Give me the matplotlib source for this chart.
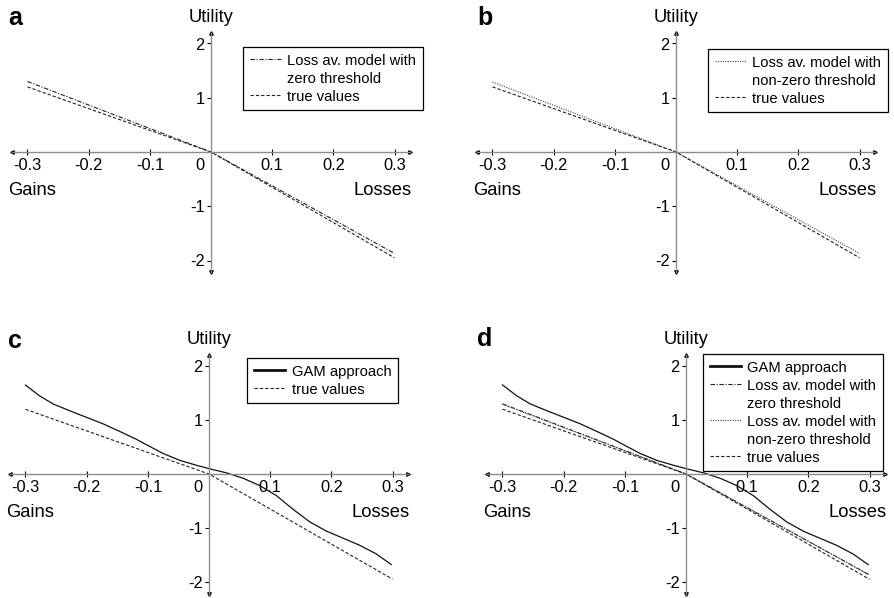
import matplotlib
matplotlib.use("Agg")
import matplotlib.pyplot as plt
from matplotlib.lines import Line2D

plt.rcParams['font.family'] = ['Liberation Sans', 'DejaVu Sans']
plt.rcParams['font.size'] = 11

# ---- data ------------------------------------------------------------------
x_lin = [-0.3, 0.0, 0.3]
true_vals = [1.20, 0.0, -1.95]
loss_av_zero = [1.30, 0.0, -1.87]
loss_av_nonzero = [1.29, 0.0, -1.87]

gam_x = [-0.300, -0.277, -0.255, -0.227, -0.200, -0.173, -0.146, -0.118,
         -0.100, -0.075, -0.047, -0.020, 0.000, 0.029, 0.056, 0.083,
         0.110, 0.138, 0.165, 0.192, 0.219, 0.246, 0.273, 0.298]
gam_y = [1.65, 1.45, 1.30, 1.17, 1.05, 0.93, 0.79, 0.64,
         0.53, 0.38, 0.25, 0.16, 0.10, 0.02, -0.08, -0.215,
         -0.40, -0.66, -0.89, -1.06, -1.19, -1.32, -1.48, -1.68]

x_ticks = [-0.3, -0.2, -0.1, 0.1, 0.2, 0.3]
x_tick_labels = ['-0.3', '-0.2', '-0.1', '0.1', '0.2', '0.3']
y_ticks = [-2, -1, 1, 2]
y_tick_labels = ['-2', '-1', '1', '2']

W, H = 894, 598
XLIM = (-0.325, 0.325)
YLIM = (-2.22, 2.2)
TICK_FS = 11.8
LABEL_FS = 13.2
LEGEND_FS = 10.6

STYLES = {
    'gam':     dict(color='#111111', lw=0.9, ls='-'),
    'zero':    dict(color='#222222', lw=0.8, ls=(0, (4, 1.5, 1, 1.5))),
    'nonzero': dict(color='#444444', lw=0.8, ls=(0, (1, 1.2))),
    'true':    dict(color='#222222', lw=0.8, ls=(0, (3, 1.8))),
}

fig = plt.figure(figsize=(W / 100, H / 100), dpi=100)


def make_panel(letter, ox, oy, sx, sy, letter_xy):
    """Axes whose data origin lands on pixel (ox, oy)."""
    left = (ox + XLIM[0] * sx) / W
    width = (XLIM[1] - XLIM[0]) * sx / W
    bottom = 1 - (oy - YLIM[0] * sy) / H
    height = (YLIM[1] - YLIM[0]) * sy / H
    ax = fig.add_axes([left, bottom, width, height])
    ax.set_xlim(*XLIM)
    ax.set_ylim(*YLIM)
    ax.patch.set_visible(False)

    for side in ['top', 'right']:
        ax.spines[side].set_visible(False)
    for side in ['left', 'bottom']:
        ax.spines[side].set_position(('data', 0))
        ax.spines[side].set_color('#8c8c8c')
        ax.spines[side].set_linewidth(1.0)

    ax.set_xticks(x_ticks, x_tick_labels)
    ax.set_yticks(y_ticks, y_tick_labels)
    ax.tick_params(axis='x', direction='inout', length=4, width=0.8,
                   color='black', pad=2.5, labelsize=TICK_FS)
    ax.tick_params(axis='y', direction='out', length=3, width=0.8,
                   color='black', pad=1.5, labelsize=TICK_FS)

    # tiny arrow heads at the axis ends
    kw = dict(color='black', ms=2.5, clip_on=False)
    ax.plot(1, 0, '>', transform=ax.get_yaxis_transform(), **kw)
    ax.plot(0, 0, '<', transform=ax.get_yaxis_transform(), **kw)
    ax.plot(0, 1, '^', transform=ax.get_xaxis_transform(), **kw)
    ax.plot(0, 0, 'v', transform=ax.get_xaxis_transform(), **kw)

    ax.annotate('0', xy=(0, 0), xytext=(-8, -10), textcoords='offset points',
                ha='center', va='center', fontsize=TICK_FS)
    ax.annotate('Utility', xy=(0, YLIM[1]), xytext=(0, 5),
                textcoords='offset points', ha='center', va='bottom',
                fontsize=LABEL_FS)
    ax.annotate('Gains', xy=(-0.293, 0), xytext=(0, -27.5),
                textcoords='offset points', ha='center', va='center',
                fontsize=LABEL_FS)
    ax.annotate('Losses', xy=(XLIM[1], 0), xytext=(1, -27.5),
                textcoords='offset points', ha='right', va='center',
                fontsize=LABEL_FS)

    fig.text(letter_xy[0] / W, 1 - letter_xy[1] / H, letter,
             fontsize=18, fontweight='bold', ha='left', va='baseline')
    return ax


def add_legend(ax, keys, corner):
    handles, labels = [], []
    blank = Line2D([], [], color='none')
    for key in keys:
        st = dict(STYLES[key])
        if key == 'gam':
            st['lw'] = 2.0
            handles.append(Line2D([], [], **st)); labels.append('GAM approach')
        elif key == 'zero':
            handles.append(Line2D([], [], **st)); labels.append('Loss av. model with')
            handles.append(blank); labels.append('zero threshold')
        elif key == 'nonzero':
            handles.append(Line2D([], [], **st)); labels.append('Loss av. model with')
            handles.append(blank); labels.append('non-zero threshold')
        else:
            handles.append(Line2D([], [], **st)); labels.append('true values')
    leg = ax.legend(handles, labels, loc='upper right',
                    bbox_to_anchor=(corner[0] / W, 1 - corner[1] / H),
                    bbox_transform=fig.transFigure, borderaxespad=0,
                    fontsize=LEGEND_FS, handlelength=2.1, handletextpad=0.45,
                    labelspacing=0.27, borderpad=0.45, fancybox=False,
                    framealpha=1, edgecolor='black')
    leg.get_frame().set_linewidth(0.9)


# panel a
ax_a = make_panel('a', 211, 152, 611.7, 54.25, (8, 25))
ax_a.plot(x_lin, loss_av_zero, **STYLES['zero'])
ax_a.plot(x_lin, true_vals, **STYLES['true'])
add_legend(ax_a, ['zero', 'true'], (423, 47))

# panel b
ax_b = make_panel('b', 676, 152, 611.7, 54.25, (477, 25))
ax_b.plot(x_lin, loss_av_nonzero, **STYLES['nonzero'])
ax_b.plot(x_lin, true_vals, **STYLES['true'])
add_legend(ax_b, ['nonzero', 'true'], (888, 49))

# panel c
ax_c = make_panel('c', 209, 474, 611.7, 53.9, (8, 348))
ax_c.plot(gam_x, gam_y, **STYLES['gam'])
ax_c.plot(x_lin, true_vals, **STYLES['true'])
add_legend(ax_c, ['gam', 'true'], (398, 358))

# panel d
ax_d = make_panel('d', 686, 474, 611.7, 54.0, (477, 346))
ax_d.plot(gam_x, gam_y, **STYLES['gam'])
ax_d.plot(x_lin, loss_av_zero, **STYLES['zero'])
ax_d.plot(x_lin, loss_av_nonzero, **STYLES['nonzero'])
ax_d.plot(x_lin, true_vals, **STYLES['true'])
add_legend(ax_d, ['gam', 'zero', 'nonzero', 'true'], (883, 354))

fig.savefig('out.png', dpi=100)
